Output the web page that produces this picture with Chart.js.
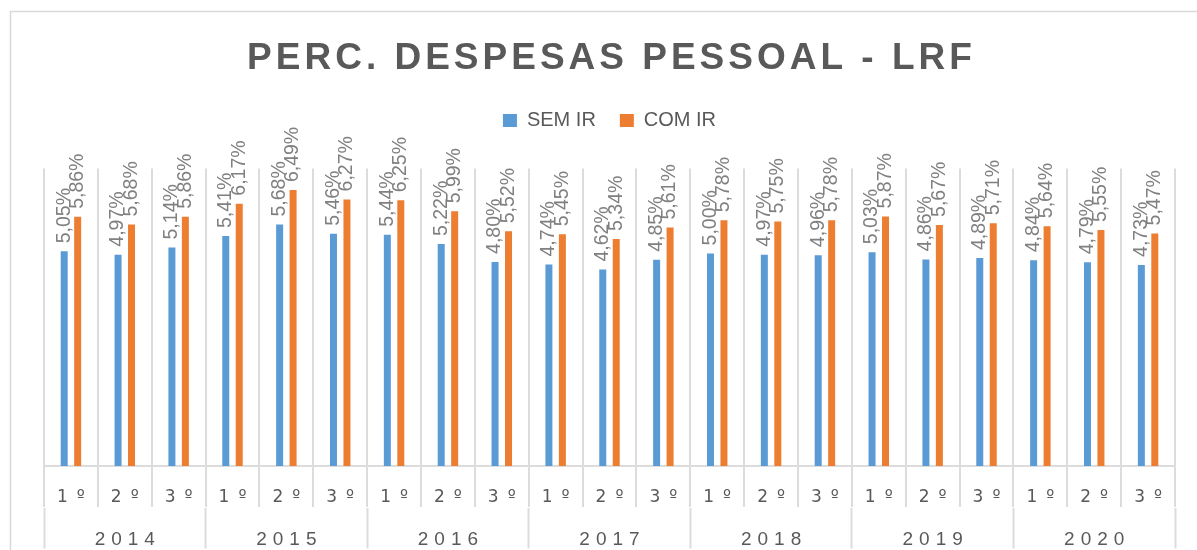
<!DOCTYPE html>
<html>
<head>
<meta charset="utf-8">
<script src="https://cdn.jsdelivr.net/npm/chart.js@4.4.1/dist/chart.umd.min.js"></script>
<style>
  body { margin: 0; background: #fff; }
  canvas { display: block; }
</style>
</head>
<body>
<canvas id="despesas_chart" width="1197" height="550"></canvas>
<script>
const years = ['2014', '2015', '2016', '2017', '2018', '2019', '2020'];
const quarters = ['1º', '2º', '3º'];
const semIR = [5.05, 4.97, 5.14, 5.41, 5.68, 5.46, 5.44, 5.22, 4.80, 4.74, 4.62, 4.85, 5.00, 4.97, 4.96, 5.03, 4.86, 4.89, 4.84, 4.79, 4.73];
const comIR = [5.86, 5.68, 5.86, 6.17, 6.49, 6.27, 6.25, 5.99, 5.52, 5.45, 5.34, 5.61, 5.78, 5.75, 5.78, 5.87, 5.67, 5.71, 5.64, 5.55, 5.47];

const labels = years.flatMap(() => quarters);

// letter spacing for the axis labels (Excel style spaced text)
const letterGaps = { x: 9, x2: 6 };

class SpacedCategoryScale extends Chart.CategoryScale {
    drawLabels(chartArea) {
        const ctx = this.ctx;
        const gap = letterGaps[this.id] || 0;
        ctx.save();
        ctx.letterSpacing = gap + 'px';
        ctx.translate(gap / 2, 0);
        super.drawLabels(chartArea);
        ctx.restore();
    }
}
SpacedCategoryScale.id = 'spacedCategory';
SpacedCategoryScale.defaults = Chart.CategoryScale.defaults;
Chart.register(SpacedCategoryScale);

function fmt(v) {
    return v.toFixed(2).replace('.', ',') + '%';
}

const frameAndTweaks = {
    id: 'frameAndTweaks',
    beforeInit(chart) {
        const legendFit = chart.legend.fit;
        chart.legend.fit = function() {
            legendFit.call(this);
            this.height += 28;
        };
        const titleDraw = chart.titleBlock.draw;
        chart.titleBlock.draw = function() {
            const c = this.ctx;
            c.save();
            c.letterSpacing = '4px';
            c.translate(2, 0);
            titleDraw.call(this);
            c.restore();
        };
    },
    beforeDraw(chart) {
        const ctx = chart.ctx;
        ctx.save();
        ctx.fillStyle = '#ffffff';
        ctx.fillRect(0, 0, chart.width, chart.height);
        ctx.strokeStyle = '#d9d9d9';
        ctx.lineWidth = 1.5;
        ctx.strokeRect(10.5, 11.5, chart.width + 20, chart.height + 20);
        ctx.restore();
    }
};

const barLabels = {
    id: 'barLabels',
    afterDatasetsDraw(chart) {
        const ctx = chart.ctx;
        chart.data.datasets.forEach((ds, i) => {
            chart.getDatasetMeta(i).data.forEach((bar, j) => {
                ctx.save();
                ctx.translate(bar.x, bar.y - 8);
                ctx.rotate(-Math.PI / 2);
                ctx.font = '19.5px "Liberation Sans"';
                ctx.fillStyle = '#808080';
                ctx.textAlign = 'left';
                ctx.textBaseline = 'middle';
                ctx.fillText(fmt(ds.data[j]), 0, 0);
                ctx.restore();
            });
        });
    }
};

const ctx = document.getElementById('despesas_chart').getContext('2d');
new Chart(ctx, {
    type: 'bar',
    data: {
        labels: labels,
        datasets: [{
            label: 'SEM IR',
            data: semIR,
            backgroundColor: '#5B9BD5',
            categoryPercentage: 0.5,
            barPercentage: 0.52
        }, {
            label: 'COM IR',
            data: comIR,
            backgroundColor: '#ED7D31',
            categoryPercentage: 0.5,
            barPercentage: 0.52
        }]
    },
    options: {
        responsive: false,
        devicePixelRatio: 1,
        animation: false,
        layout: {
            padding: { left: 44, right: 22, top: 0, bottom: 0 }
        },
        plugins: {
            title: {
                display: true,
                text: 'PERC. DESPESAS PESSOAL - LRF',
                color: '#595959',
                font: { family: '"Liberation Sans"', size: 37, weight: 'bold', lineHeight: 1.2 },
                padding: { top: 37, bottom: 5 }
            },
            legend: {
                display: true,
                position: 'top',
                labels: {
                    color: '#595959',
                    font: { family: '"Liberation Sans"', size: 20 },
                    boxWidth: 14,
                    boxHeight: 13,
                    padding: 24
                }
            },
            tooltip: { enabled: false }
        },
        scales: {
            x: {
                type: 'spacedCategory',
                offset: true,
                grid: { offset: true, color: '#dcdcdc', lineWidth: 2, tickLength: 41, tickColor: '#dcdcdc', tickWidth: 2 },
                border: { display: true, color: '#dcdcdc', width: 2 },
                ticks: {
                    color: '#595959',
                    font: { family: '"DejaVu Sans"', size: 17, lineHeight: 1.2 },
                    padding: -20,
                    autoSkip: false,
                    maxRotation: 0
                },
                afterFit: (scale) => { scale.height = 41.5; }
            },
            x2: {
                type: 'spacedCategory',
                position: 'bottom',
                labels: years,
                offset: true,
                grid: { offset: true, drawOnChartArea: false, color: '#dcdcdc', tickLength: 41, tickColor: '#dcdcdc', tickWidth: 2 },
                border: { display: false },
                ticks: {
                    color: '#595959',
                    font: { family: '"Liberation Sans"', size: 19, lineHeight: 1.1 },
                    padding: -19,
                    autoSkip: false,
                    maxRotation: 0
                },
                afterFit: (scale) => { scale.height = 42.5; }
            },
            y: {
                display: false,
                min: 0,
                max: 7
            }
        }
    },
    plugins: [frameAndTweaks, barLabels]
});
</script>
</body>
</html>
